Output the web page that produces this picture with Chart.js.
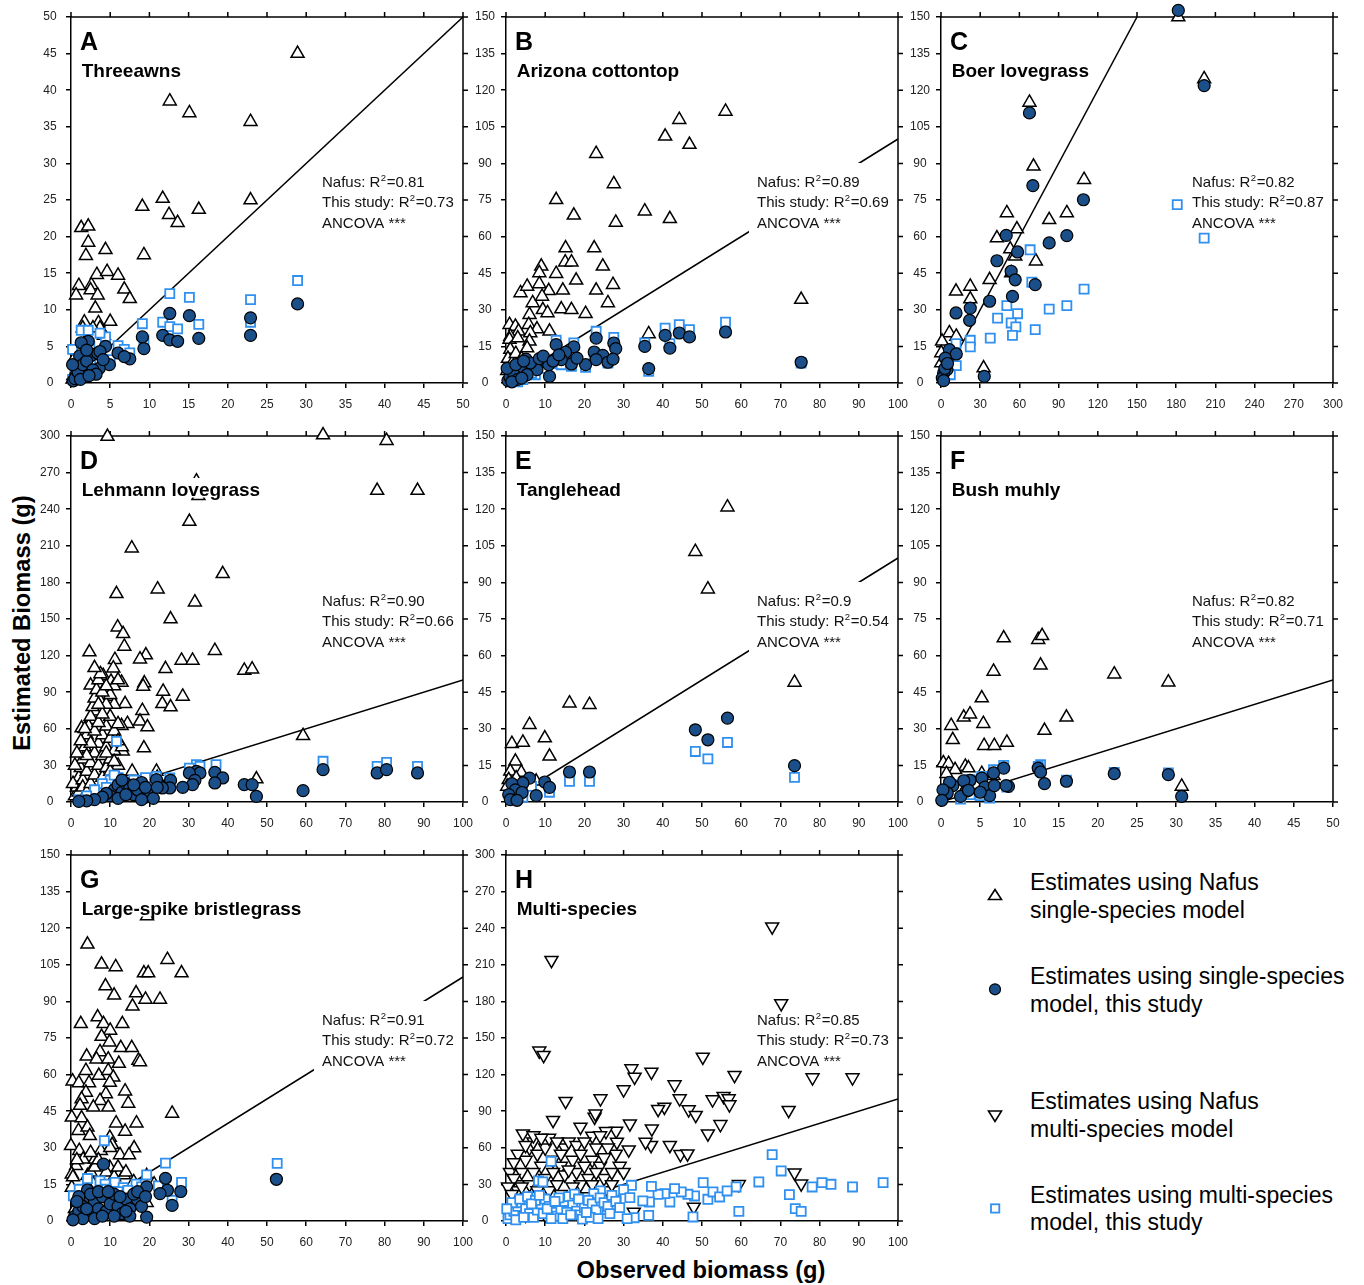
<!DOCTYPE html>
<html><head><meta charset="utf-8">
<script src="https://cdn.jsdelivr.net/npm/chart.js@4.4.1/dist/chart.umd.min.js"></script>
<style>
html,body{margin:0;padding:0;background:#fff;overflow:hidden;}
#wrap{position:relative;width:1364px;height:1285px;overflow:hidden;font-family:"Liberation Sans",Arial,Helvetica,sans-serif;}
canvas.p{position:absolute;}
.ttl{position:absolute;font-weight:bold;font-size:23.7px;line-height:1;white-space:nowrap;color:#000;}
</style></head>
<body><div id="wrap">
<div class="ttl" style="left:23px;top:623px;transform:translate(-50%,-50%) rotate(-90deg);">Estimated Biomass (g)</div>
<div class="ttl" style="left:701px;top:1271px;transform:translate(-50%,-50%);">Observed biomass (g)</div>
<svg id="leg" style="position:absolute;left:960px;top:860px;" width="404" height="400" font-family="Liberation Sans, Arial, sans-serif" font-size="23">
  <polygon points="35,29.5 41.5,39.5 28.5,39.5" fill="#fff" stroke="#000" stroke-width="1.6"/>
  <circle cx="35" cy="129.3" r="5.5" fill="#1b4f8a" stroke="#000" stroke-width="1.2"/>
  <polygon points="28.5,251 41.5,251 35,261.5" fill="#fff" stroke="#000" stroke-width="1.6"/>
  <rect x="31" y="344.3" width="8.3" height="8.3" fill="#fff" stroke="#3090f0" stroke-width="1.8"/>
  <text x="70" y="30">Estimates using Nafus</text>
  <text x="70" y="57.5">single-species model</text>
  <text x="70" y="123.5">Estimates using single-species</text>
  <text x="70" y="151.5">model, this study</text>
  <text x="70" y="248.5">Estimates using Nafus</text>
  <text x="70" y="276.5">multi-species model</text>
  <text x="70" y="342.7">Estimates using multi-species</text>
  <text x="70" y="370">model, this study</text>
</svg>
</div>
<script>
// ---------- panel labels and axes ----------
const letters = ['A','B','C','D','E','F','G','H'];
const species = ['Threeawns','Arizona cottontop','Boer lovegrass','Lehmann lovegrass','Tanglehead','Bush muhly','Large-spike bristlegrass','Multi-species'];
const r2Nafus = ['0.81','0.89','0.82','0.90','0.9','0.82','0.91','0.85'];
const r2This  = ['0.73','0.69','0.87','0.66','0.54','0.71','0.72','0.73'];
const xMaxes = [50,100,300,100,100,50,100,100];
const xSteps = [5,10,30,10,10,5,10,10];
const yMaxes = [50,150,150,300,150,150,150,300];
const ySteps = [5,15,15,30,15,15,15,30];
const lineEnds = [50,100,150,100,100,50,100,100]; // 1:1 line

// ---------- series (observed, estimated) ----------
const nafusA = [[28.9,45],[12.6,38.5],[15.1,36.9],[22.9,35.7],[11.7,25.2],[9.1,24.1],[16.3,23.7],[12.5,23.0],[13.6,21.9],[22.9,25.0],[1.3,21.2],[2.2,21.4],[2.2,19.2],[1.9,17.4],[4.4,18.2],[9.3,17.5],[1.0,13.3],[0.65,12.0],[2.6,13.4],[2.5,12.7],[3.3,14.8],[4.6,15.2],[6.0,14.7],[6.8,12.8],[7.5,11.5],[3.4,12.0],[3.1,10.2],[1.7,8.3],[3.5,8.2],[5.0,8.4],[3.7,7.5],[0.5,3.5],[1,4.5],[0.3,1],[0.8,2],[2,6],[1.5,7.5],[2.8,7.5],[4.2,6.5],[0.2,0.5]];
const cirA = [[28.9,10.8],[12.6,9.5],[15.1,9.2],[22.9,8.9],[22.9,6.5],[11.7,6.5],[9.1,6.3],[9.3,4.7],[12.6,5.9],[13.6,5.7],[16.3,6.1],[6.0,4.1],[7.5,3.3],[6.8,3.6],[4.4,5.0],[4.9,2.5],[2.2,5.7],[1.3,5.5],[1.1,3.7],[2.5,3.7],[3.6,2.0],[3.4,4.1],[1.7,1.5],[0.6,1.0],[0.3,0.3],[0.5,0.6],[0.9,1.5],[1.5,2.5],[2,3],[2.8,1.8],[3.2,1.2],[1.2,0.5],[2.3,1],[0.2,2.5],[3.7,4.3],[4.1,3.2],[2.0,4.5]];
const sqA = [[28.9,14.0],[12.6,12.2],[15.1,11.7],[22.9,11.4],[22.9,8.3],[11.7,8.3],[9.1,8.1],[12.6,7.7],[13.6,7.4],[16.3,8.0],[9.3,5.9],[1.3,7.2],[2.2,7.2],[4.4,6.3],[6.0,5.1],[6.8,4.6],[7.5,4.1],[3.7,6.8],[0.2,4.6],[5.0,3.2],[2.4,5.0],[0.5,2],[1.5,3],[2.5,2.5],[0.2,0.5],[1,1]];

const nafusB = [[56.0,111.3],[44.2,107.9],[40.6,101.1],[46.8,97.7],[23.0,94.0],[27.5,81.6],[12.8,75.1],[17.3,68.7],[35.4,70.4],[41.8,67.3],[28.0,65.8],[15.2,55.3],[22.5,55.3],[15.1,49.5],[16.7,49.5],[24.7,47.8],[9.0,47.8],[8.5,45.1],[12.8,44.8],[8.5,40.6],[3.7,36.9],[5.4,39.6],[17.9,42.1],[27.3,40.3],[23.0,38.0],[14.5,38.0],[10.9,37.8],[6.8,32.8],[9.2,35.5],[26.0,32.8],[6.0,28.0],[9.4,30.0],[10.6,28.7],[14.1,30.3],[16.7,30.0],[20.3,28.4],[0.9,23.9],[2.4,23.2],[5.8,23.9],[7.9,22.1],[11.1,21.2],[3.2,21.2],[1.1,19.1],[6.2,20.5],[0.9,17.8],[3.0,18.4],[6.0,17.1],[1.1,13.7],[5.4,14.3],[36.4,20.1],[75.3,34.2],[0.5,10],[1.5,8],[2.5,12],[4,10],[0.3,5],[1,3]];
const cirB = [[56.0,20.9],[44.2,20.5],[40.6,19.5],[46.8,18.9],[41.8,14.3],[35.4,15.0],[36.4,5.9],[75.3,8.5],[23.0,18.4],[27.5,16.4],[28.0,14.1],[12.8,15.7],[17.3,14.8],[22.5,12.7],[15.2,12.6],[24.7,11.3],[26.0,8.5],[27.3,9.8],[23.0,9.6],[20.3,7.5],[16.7,7.8],[18.1,10.2],[14.1,9.6],[11.1,2.7],[9.2,8.9],[5.1,9.8],[10.9,7.5],[7.9,5.5],[6.2,8.2],[3.7,5.7],[1.1,4.8],[5.4,3.4],[0.5,1],[1,2.5],[2,3.5],[3,1.5],[1.5,0.5],[4,2],[8.5,10],[9.5,11],[12,9],[13.5,11.5],[0.3,6],[2.5,7.5],[4.5,9]];
const sqB = [[56.0,24.9],[44.2,23.9],[40.6,22.5],[46.8,21.9],[23.0,21.2],[27.5,18.7],[12.8,17.5],[17.3,16.4],[35.4,16.4],[41.8,16.1],[36.4,4.8],[75.3,8.2],[20.3,6.4],[16.7,6.8],[14.1,7.5],[26.0,8.2],[22.5,11.6],[15.2,10.9],[7.5,3.4],[9.2,6.8],[4.3,1.4],[1,1],[2,2.5],[3,0.5],[5,5],[6.5,4],[10,6],[11.5,8]];

const nafusC = [[181.6,150],[201.4,124.6],[67.7,115.0],[70.8,88.8],[109.5,83.3],[50.4,69.7],[96.3,69.7],[82.8,66.9],[58.1,63.1],[42.8,59.4],[53.0,54.9],[56.8,51.9],[72.6,49.9],[37.2,42.3],[53.7,45.1],[22.4,39.6],[22.4,34.4],[11.5,37.6],[6.4,20.5],[11.7,19.1],[0.8,17.1],[0.2,12.3],[0.2,8.2],[32.6,6.1],[4.6,10.9]];
const cirC = [[181.6,152.7],[201.4,121.9],[67.7,110.7],[70.3,80.9],[109.0,75.1],[49.9,60.5],[96.3,60.4],[82.8,57.4],[58.6,53.7],[42.8,50.1],[53.7,45.8],[56.8,42.3],[72.1,40.3],[54.7,35.5],[37.2,33.5],[22.4,30.7],[11.5,28.7],[21.9,25.7],[6.4,13.7],[11.7,11.9],[3.3,10.2],[4.6,5.5],[2.0,4.1],[33.1,2.7],[1,2],[3,6],[5,8],[2,1]];
const sqC = [[180.8,73.1],[201.4,59.4],[68.2,54.6],[109.5,38.5],[69.5,41.3],[96.3,31.7],[82.8,30.3],[50.4,31.7],[58.6,28.4],[43.3,26.6],[53.7,24.6],[57.3,23.0],[72.1,21.9],[54.7,19.5],[37.7,18.4],[22.4,17.5],[22.4,14.8],[11.5,16.1],[11.7,7.1],[7.1,3.4],[2.0,1.4],[4.6,9.6]];

const nafusD = [[9.3,299.5],[64.3,300.8],[80.5,296.2],[32.0,263],[32.5,251],[78.1,255.3],[88.4,255.3],[30.2,229.9],[15.5,208.0],[38.7,187.0],[22.1,174.4],[11.6,170.6],[31.6,163.8],[25.4,149.9],[11.9,143.3],[13.3,137.9],[13.6,127.5],[4.7,122.9],[36.7,124.0],[19.1,120.4],[17.6,117.1],[11.2,116.6],[28.2,116.0],[31.0,116.0],[24.1,109.2],[44.2,107.8],[46.2,108.9],[10.8,109.7],[8.2,103.5],[18.7,97.5],[10.2,98.8],[12.9,98.0],[5.0,95.6],[23.5,90.6],[18.4,94.7],[9.9,86.5],[7.2,84.4],[28.5,86.5],[23.3,80.5],[25.4,77.8],[13.8,80.5],[18.2,74.8],[6.1,74.3],[5.0,67.4],[17.6,66.1],[19.5,61.4],[14.4,64.2],[12.9,62.5],[2.7,60.6],[9.3,56.5],[4.0,51.1],[18.6,44.2],[13.2,41.5],[59.2,54.3],[47.3,18.8],[15.6,25.1],[21.8,25.1],[20.6,14.2],
 [1,5],[1.5,12],[2,20],[2.5,28],[3,35],[1,30],[0.5,15],[3.5,45],[4,55],[4.5,62],[5,70],[5.5,78],[6,85],[6.5,92],[7,100],[7.5,105],[3,18],[4,25],[5,32],[6,40],[7,48],[8,55],[9,62],[10,70],[11,80],[2,8],[3,12],[4,8],[5,15],[6,22],[7,30],[8,38],[9,45],[10,52],[11,58],[12,64],[6,58],[7,65],[8,72],[9,80],[10,88],[11,95],[12,100],[8,20],[9,28],[10,35],[11,42],[12,30],[5,48],[4,38],[6,3],[3,2],[8,10],[10,15],[12,20],[13,12],[14,8],[16,5],[18,10],[20,6],[22,20],[6,110],[9,40],[10,25],[11,10],[1.5,40],[2.5,50],[3.5,60],[7,80],[8,90],[9,95],[13,45],[12,50],[11,33]];
const cirD = [[64.3,26.5],[78.1,23.8],[80.5,26.5],[88.4,23.8],[59.2,9.3],[47.3,4.6],[44.2,14.2],[46.2,14.2],[36.7,24.3],[38.7,19.7],[36.7,15.6],[32.0,25.1],[32.9,23.8],[30.2,23.8],[31.6,17.7],[31.0,14.2],[28.5,12.0],[25.4,17.7],[25.2,11.5],[23.3,11.5],[21.8,18.3],[11,10],[12,14],[13,8],[14,15],[15,12],[16,6],[17,10],[18,16],[19,4],[20,8],[21,3],[22,12],[10,5],[12,3],[14,6],[16,14],[18,2],[9,7],[8,4],[6,2],[4,1],[2,0.5],[19,12],[13,18]];
const sqD = [[64.3,33.4],[78.1,29.2],[80.5,32.5],[88.4,29.2],[32.0,30.6],[37.0,30.6],[32.9,29.2],[30.2,27.8],[25.2,19.7],[21.8,21.0],[11.6,49.7],[10,18],[12,20],[14,16],[16,18],[18,12],[20,6],[13,10],[15,8],[8,15],[6,10],[4,5],[2,2],[19,20],[22,15],[11,22],[9,12]];

const nafusE = [[56.5,120.8],[48.3,102.6],[51.5,87.2],[73.6,49.0],[16.2,40.5],[21.3,39.9],[6.0,31.7],[9.9,26.2],[1.5,23.9],[4.3,24.4],[11.1,18.7],[2.4,16.7],[1.1,12.6],[3.9,12.1],[0.7,9.1],[7.7,8.5],[2.6,9.8],[0.3,6.4]];
const cirE = [[56.5,34.4],[48.3,29.6],[51.5,25.5],[73.6,14.9],[16.2,12.3],[21.3,12.3],[6.0,9.8],[9.9,8.2],[11.1,6.0],[4.3,7.8],[1.5,7.5],[2.4,5.0],[4.1,3.9],[7.7,2.6],[0.7,3.0],[1.1,1.0],[2.8,0.7]];
const sqE = [[56.5,24.4],[48.3,20.7],[51.5,17.7],[73.6,10.1],[16.2,8.5],[21.3,8.5],[11.1,4.0],[6.5,6.4],[4.3,2.0],[1.5,3.0]];

const nafusF = [[8.0,67.2],[12.4,66.5],[12.9,68.1],[6.7,53.5],[12.7,56.0],[22.1,52.4],[29.0,49.1],[5.2,42.6],[2.9,34.7],[3.7,36.0],[1.3,31.3],[5.4,32.1],[16.0,34.7],[13.2,29.3],[1.5,25.5],[5.5,23.1],[6.8,23.1],[8.4,24.4],[0.3,16.0],[0.97,15.7],[3.1,14.6],[3.5,13.9],[1.8,13.2],[0.7,11.6],[5.2,11.6],[30.7,6.4],[6.7,10.8]];
const cirF = [[8.0,13.9],[12.4,13.9],[12.7,12.3],[13.2,7.5],[16.0,8.5],[22.1,11.6],[29.0,11.2],[30.7,2.3],[6.7,11.9],[5.2,9.8],[5.6,6.1],[3.7,8.9],[2.9,8.7],[1.5,6.7],[1.1,8.1],[0.8,3.7],[0.25,5.0],[0.1,0.7],[3.2,4.4],[6.2,2.6],[6.8,6.7],[8.6,6.4],[8.3,6.7],[2.5,2.3],[5.0,4.0],[3.5,4.8]];
const sqF = [[8.0,15.0],[12.7,15.3],[12.4,14.6],[22.1,12.1],[29.0,11.9],[16.0,8.9],[6.7,13.2],[5.2,10.5],[2.5,1.2],[3.7,3.0],[8.4,6.1],[6.2,1.6],[5.0,2.6],[1.4,7.1],[3.7,9.1]];

const nafusG = [[19.4,125],[4.2,113.4],[7.8,105.2],[11.4,104.1],[24.6,107.1],[28.2,101.6],[18.6,101.6],[19.7,101.6],[8.8,96.3],[11.0,92.5],[16.6,93.4],[19.0,90.8],[22.7,90.8],[15.7,88.0],[2.5,80.8],[6.8,83.6],[8.3,80.8],[13.1,80.8],[10.0,78.1],[7.8,75.6],[9.8,73.3],[12.7,71.0],[15.5,71.0],[4.0,67.5],[7.4,69.3],[6.5,66.3],[9.5,66.3],[12.2,64.5],[17.2,65.8],[17.6,65.2],[3.8,61.6],[7.1,59.6],[9.5,61.6],[10.8,58.9],[0.4,57.3],[2.0,56.6],[4.6,56.6],[9.9,56.8],[3.8,52.7],[8.9,52.1],[13.8,53.2],[2.7,50.0],[7.4,49.3],[14.6,48.2],[2.3,47.3],[5.7,46.6],[9.5,46.6],[25.8,44.1],[0.2,42.5],[2.7,42.2],[11.5,40.1],[16.7,40.1],[1.9,37.0],[4.2,38.4],[13.8,36.7],[4.8,34.9],[9.9,34.2],[0,30.8],[2.1,28.8],[7.6,28.8],[10.5,31.2],[16.1,29.9],[12.5,27.1],[14.8,27.1],[3.1,25.3],[6.1,25.3],[1.3,22.6],[9.9,21.9],[13.5,18.9],[19.3,18.5],[19.3,7.5],[4.2,18.5],[0.2,19.2],[5.7,15.1],[0.2,13.7],[21.2,15.1],[2.3,11.0],
 [1,5],[2,8],[3,12],[4,15],[5,20],[6,22],[1.5,25],[0.5,18],[3,3],[6,10],[8,15],[9,20],[7,25],[11,18],[12,22],[14,20],[16,16],[5,28],[10,30]];
const cirG = [[52.4,17.1],[24.1,17.5],[24.6,12.6],[28.0,12.1],[25.8,6.4],[19.3,14.0],[19.3,1.6],[22.7,11.2],[8.3,23.3],[4.2,12.7],[4.2,8.6],[16.9,8.9],[13.0,9.2],[9.9,8.2],[1,2],[2,4],[3,6],[5,3],[6,8],[7,5],[8,10],[9,4],[10,7],[11,11],[12,6],[13,3],[14,9],[15,5],[16,11],[17,12],[18,6],[2,10],[3,1],[5,11],[7,12],[11,2],[15,2],[0.5,0.5],[1.5,8],[4,5],[6,1],[8,2],[9.5,12],[12.5,10],[14,4],[19,10]];
const sqG = [[52.6,23.6],[24.1,23.7],[8.5,32.9],[19.3,18.9],[28.2,15.8],[4.2,17.4],[7.4,16.4],[8.7,15.1],[11.2,15.8],[13.3,13.7],[16.6,15.1],[22.3,14.4],[25.8,8.5],[2.1,13.0],[0.6,10.3],[5,12],[9,13],[12,12],[14.5,12.5],[18,14],[6,5],[10,4]];

const nafusH = [[67.9,241.2],[11.6,213.8],[70.2,178.3],[8.5,139.5],[9.6,135.9],[50.2,134.5],[32.0,125.0],[32.8,118.1],[37.1,122.2],[58.3,119.5],[78.2,117.6],[88.4,117.6],[43.0,111.8],[30.0,107.7],[44.3,100.4],[24.1,100.4],[15.2,98.2],[52.7,99.5],[55.5,102.3],[56.8,100.4],[57.0,95.4],[46.6,91.3],[48.4,86.7],[72.1,90.8],[40.4,93.5],[38.8,91.6],[22.6,85.3],[22.8,88.0],[12.0,82.6],[31.6,79.8],[54.7,79.3],[51.5,71.6],[37.2,75.7],[28.1,73.8],[19.0,77.1],[22.0,69.7],[4.3,71.6],[25.5,73.5],[41.8,62.1],[37.0,62.1],[35.6,64.8],[28.3,64.8],[31.3,58.5],[44.5,54.7],[46.3,55.2],[73.6,39.6],[75.3,30.6],[59.4,30.1],[47.9,11.5],[32.6,7.4],
 [1,10],[2,20],[3,30],[4,40],[5,50],[6,60],[7,65],[8,55],[9,45],[10,35],[11,25],[12,15],[13,30],[14,45],[15,60],[16,65],[17,50],[18,40],[19,30],[20,20],[21,35],[22,50],[23,60],[24,45],[25,35],[26,25],[27,40],[28,55],[29,45],[1,40],[2,35],[3,25],[4,15],[5,5],[6,30],[7,40],[8,25],[9,15],[10,60],[11,68],[12,50],[13,65],[14,55],[15,38],[16,20],[17,28],[18,62],[19,55],[20,45],[22,30],[23,40],[24,70],[26,60],[3,55],[5,62],[7,70],[9,68],[2,48],[4,28],[0.5,28],[1.5,22],[6,12],[8,8],[10,5],[12,40],[14,22],[16,42],[18,20],[20,65],[25,52],[27,30],[30,40]];
const sqH = [[67.9,54.4],[70.2,41.0],[96.2,31.4],[82.9,30.1],[80.6,31.4],[78.1,27.9],[88.4,27.9],[64.5,32.0],[58.7,27.9],[72.3,21.6],[73.8,10.1],[75.3,7.9],[59.4,7.9],[50.3,31.4],[51.5,17.8],[52.8,23.8],[54.5,19.7],[56.4,24.6],[47.7,3.3],[48.1,20.5],[46.4,21.9],[44.7,23.8],[43.0,26.5],[41.8,15.6],[40.5,22.4],[38.8,21.9],[37.1,28.4],[36.6,15.6],[34.9,16.4],[36.4,4.6],[32.7,2.7],[30.9,1.9],[32.0,29.3],[30.0,25.7],[31.6,19.1],[28.1,17.0],[25.8,9.3],[24.1,24.6],[22.4,22.4],[11.5,48.9],[8.3,32.8],[9.4,32.0],
 [0.5,2],[1,5],[2,8],[3,12],[4,15],[5,10],[6,6],[7,3],[8,9],[9,14],[10,18],[11,12],[12,7],[13,4],[14,10],[15,16],[16,20],[17,13],[18,8],[19,5],[20,11],[21,17],[22,14],[23,9],[24,19],[25,15],[26,12],[27,21],[28,16],[29,11],[1.5,15],[3.5,18],[5.5,20],[7.5,17],[9.5,6],[11.5,2],[13.5,19],[15.5,7],[17.5,22],[19.5,1.5],[21.5,3],[0.2,10],[2.5,1],[4.5,3],[6.5,14],[8.5,21],[10.5,10],[12.5,16],[14.5,2],[16.5,5],[18.5,18],[20.5,7],[23.5,2],[26.5,6]];

const nafus   = [nafusA,nafusB,nafusC,nafusD,nafusE,nafusF,nafusG,nafusH];
const circles = [cirA,cirB,cirC,cirD,cirE,cirF,cirG,null];
const squares = [sqA,sqB,sqC,sqD,sqE,sqF,sqG,sqH];

// ---------- layout ----------
const FONT = '"Liberation Sans", Arial, Helvetica, sans-serif';
const colLeft = [71,506,941], rowTop = [17,436,855];
const PW = 392, PH = 366, ML = 55, MT = 17, MR = 12, MB = 30;
const F1 = '15px ' + FONT, F2 = '9.5px ' + FONT;

function mk(pts){ return pts.map(p => ({x:p[0], y:p[1]})); }

function r2Widths(ctx, pre, val){
  ctx.font = F1; const w1 = ctx.measureText(pre + 'R').width;
  ctx.font = F2; const w2 = ctx.measureText('2').width;
  ctx.font = F1; const w3 = ctx.measureText('=' + val).width;
  return [w1, w2, w3];
}

const framePlugin = {
  id: 'frame',
  beforeDatasetsDraw(chart){
    const ctx = chart.ctx, a = chart.chartArea, xs = chart.scales.x, ys = chart.scales.y;
    ctx.save();
    ctx.strokeStyle = '#000'; ctx.lineWidth = 1.5;
    ctx.beginPath();
    ctx.moveTo(a.left, a.top); ctx.lineTo(a.right, a.top); ctx.lineTo(a.right, a.bottom);
    xs.ticks.forEach(t => { const px = xs.getPixelForValue(t.value); ctx.moveTo(px, a.top); ctx.lineTo(px, a.top - 5); });
    ys.ticks.forEach(t => { const py = ys.getPixelForValue(t.value); ctx.moveTo(a.right, py); ctx.lineTo(a.right + 5, py); });
    ctx.stroke();
    ctx.restore();
  },
  afterDatasetDraw(chart, args, o){
    // white backing of the statistics block: above the 1:1 line, below the markers
    if (args.index !== chart.data.datasets.length - 1) return;
    const ctx = chart.ctx, a = chart.chartArea;
    ctx.save();
    const tx = a.left + 251;
    const l1 = r2Widths(ctx, 'Nafus: ', o.r1), l2 = r2Widths(ctx, 'This study: ', o.r2);
    const maxW = Math.max(l1[0]+l1[1]+l1[2]+1, l2[0]+l2[1]+l2[2]+1);
    ctx.fillStyle = '#fff';
    ctx.fillRect(tx - 8, a.top + 146, maxW + 15, 70);
    ctx.restore();
  },
  afterDatasetsDraw(chart, args, o){
    const ctx = chart.ctx, a = chart.chartArea;
    ctx.save();
    ctx.textBaseline = 'alphabetic'; ctx.textAlign = 'left';
    // panel letter
    ctx.font = 'bold 25px ' + FONT;
    ctx.fillStyle = '#000'; ctx.fillText(o.letter, a.left + 9, a.top + 33);
    // species name with white backing
    ctx.font = 'bold 19px ' + FONT;
    const w = ctx.measureText(o.name).width;
    ctx.fillStyle = '#fff'; ctx.fillRect(a.left + 8, a.top + 42, w + 5, 19.5);
    ctx.fillStyle = '#000'; ctx.fillText(o.name, a.left + 10.7, a.top + 60);
    // statistics text
    const tx = a.left + 251;
    const bl = [a.top + 169.8, a.top + 190.4, a.top + 210.8];
    const l1 = r2Widths(ctx, 'Nafus: ', o.r1), l2 = r2Widths(ctx, 'This study: ', o.r2);
    ctx.fillStyle = '#111';
    function drawR2(pre, val, y, ws){
      ctx.font = F1; ctx.fillText(pre + 'R', tx, y);
      ctx.font = F2; ctx.fillText('2', tx + ws[0] + 0.3, y - 6.2);
      ctx.font = F1; ctx.fillText('=' + val, tx + ws[0] + ws[1] + 1, y);
    }
    drawR2('Nafus: ', o.r1, bl[0], l1);
    drawR2('This study: ', o.r2, bl[1], l2);
    ctx.font = F1; ctx.fillText('ANCOVA ***', tx, bl[2]);
    ctx.restore();
  }
};

const wrap = document.getElementById('wrap');
for (let i = 0; i < 8; i++){
  const L = colLeft[i % 3], T = rowTop[Math.floor(i / 3)];
  const cv = document.createElement('canvas');
  cv.className = 'p';
  cv.width = ML + PW + MR; cv.height = MT + PH + MB;
  cv.style.left = (L - ML) + 'px'; cv.style.top = (T - MT) + 'px';
  cv.style.width = cv.width + 'px'; cv.style.height = cv.height + 'px';
  wrap.appendChild(cv);

  const ds = [];
  if (circles[i]) ds.push({ data: mk(circles[i]), pointStyle:'circle', pointRadius:6, pointBackgroundColor:'#1b4f8a', pointBorderColor:'#000', pointBorderWidth:1.2, clip:false });
  ds.push({ data: mk(squares[i]), pointStyle:'rect', pointRadius:6.4, pointBackgroundColor:'#fff', pointBorderColor:'#3090f0', pointBorderWidth:1.8, clip:false });
  ds.push({ data: mk(nafus[i]), pointStyle:'triangle', pointRotation: i === 7 ? 180 : 0, pointRadius:7.5, pointBackgroundColor:'#fff', pointBorderColor:'#000', pointBorderWidth:1.5, clip:false });
  ds.push({ data: [{x:0,y:0},{x:lineEnds[i],y:lineEnds[i]}], showLine:true, borderColor:'#000', borderWidth:1.5, pointRadius:0 });

  const yPad = yMaxes[i] >= 100 ? 6 : 9.3;
  new Chart(cv, {
    type: 'scatter',
    data: { datasets: ds },
    plugins: [framePlugin],
    options: {
      responsive:false, animation:false, events:[],
      layout: { padding: { left:0, top:MT, right:MR, bottom:0 } },
      plugins: { legend:{display:false}, tooltip:{enabled:false},
        frame: { letter: letters[i], name: species[i], r1: r2Nafus[i], r2: r2This[i] } },
      scales: {
        x: { type:'linear', min:0, max:xMaxes[i],
             ticks:{ stepSize:xSteps[i], autoSkip:false, maxRotation:0, padding:9, color:'#222', font:{family:FONT, size:12} },
             grid:{ drawOnChartArea:false, drawTicks:true, tickLength:5, color:'#000', lineWidth:1.5 },
             border:{ display:true, color:'#000', width:1.5 },
             afterFit(s){ s.height = MB; s.paddingLeft = 0; s.paddingRight = 0; } },
        y: { type:'linear', min:0, max:yMaxes[i],
             ticks:{ stepSize:ySteps[i], autoSkip:false, padding:yPad, crossAlign:'center', color:'#222', font:{family:FONT, size:12} },
             grid:{ drawOnChartArea:false, drawTicks:true, tickLength:5, color:'#000', lineWidth:1.5 },
             border:{ display:true, color:'#000', width:1.5 },
             afterFit(s){ s.width = ML; s.paddingTop = 0; s.paddingBottom = 0; } }
      }
    }
  });
}
</script>
</body></html>
